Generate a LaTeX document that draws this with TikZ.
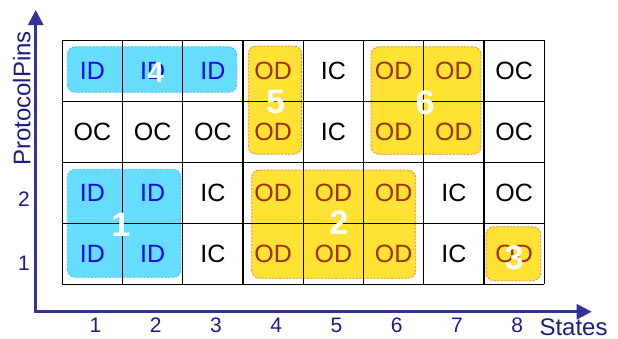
\documentclass[tikz,border=0pt]{standalone}
\usepackage{fontspec}
\setmainfont{Liberation Sans}
\usetikzlibrary{arrows.meta}
\definecolor{axisblue}{RGB}{51,51,153}
\definecolor{labelblue}{RGB}{28,28,130}
\definecolor{idfill}{RGB}{102,221,255}
\definecolor{iddraw}{RGB}{40,195,245}
\definecolor{odfill}{RGB}{255,226,51}
\definecolor{oddraw}{RGB}{250,120,40}
% text colour of each cell kind
\definecolor{txtID}{RGB}{10,10,235}
\definecolor{txtOD}{RGB}{153,51,0}
\colorlet{txtIC}{black}
\colorlet{txtOC}{black}
\tikzset{
 axis/.style={draw=axisblue,line width=2.5pt},
 gridline/.style={draw=black,line width=1.3pt},
 idbox/.style={fill=idfill,draw=iddraw,line width=0.8pt,dash pattern=on 2pt off 1.5pt,rounded corners=8pt},
 odbox/.style={fill=odfill,draw=oddraw,line width=0.8pt,dash pattern=on 2pt off 1.5pt,rounded corners=8pt},
 cell/.style={font=\fontsize{25}{30}\selectfont,inner sep=0pt},
 grpnum/.style={font=\fontsize{34}{40}\selectfont\bfseries,text=white,inner sep=0pt},
 ticklabel/.style={font=\fontsize{21}{25}\selectfont,text=labelblue,inner sep=0pt},
 axislabel/.style={font=\fontsize{24}{28}\selectfont,text=labelblue,inner sep=0pt}
}
\begin{document}
\begin{tikzpicture}[x=60.25pt,y=61pt,>={Triangle[length=15pt,width=15pt]}]
 \useasboundingbox (-1.034,-0.880) rectangle (9.223,4.661);
 % axes
 \coordinate (O) at (-0.441,-0.449);
 \coordinate (ytip) at (-0.441,4.497);
 \coordinate (xtip) at (8.787,-0.449);
 \draw[axis,<->] (ytip) -- (O) -- (xtip);
 \node[axislabel,rotate=90] (ylab) at (-0.674,3.046) {ProtocolPins};
 \node[axislabel,anchor=base] (xlab) at (8.485,-0.835) {States};
 \foreach \i in {1,...,8}
  \node[ticklabel] (x\i) at (\i-0.45,-0.667) {\i};
 \node[ticklabel] (y1) at (-0.636,0.35) {1};
 \node[ticklabel] (y2) at (-0.636,1.40) {2};
 % groups of cells
 \draw[idbox] (0.083,3.148) rectangle (2.895,3.895);
 \draw[odbox] (3.087,2.134) rectangle (3.972,3.907);
 \draw[odbox] (5.124,2.131) rectangle (6.949,3.895);
 \draw[idbox] (0.083,0.115) rectangle (1.970,1.885);
 \draw[odbox] (3.143,0.098) rectangle (5.866,1.874);
 \draw[odbox] (7.032,0.059) rectangle (7.940,0.944);
 % grid
 \foreach \i in {0,...,8}
  \draw[gridline] (\i,0) -- (\i,4);
 \foreach \j in {0,...,4}
  \draw[gridline] (0,\j) -- (8,\j);
 % cell entries, one row at a time
 \foreach \row/\list in {4/{ID,ID,ID,OD,IC,OD,OD,OC},
                         3/{OC,OC,OC,OD,IC,OD,OD,OC},
                         2/{ID,ID,IC,OD,OD,OD,IC,OC},
                         1/{ID,ID,IC,OD,OD,OD,IC,OD}}
  \foreach \t [count=\c] in \list
   \node[cell,text=txt\t] (c\c-\row) at (\c-0.5,\row-0.5) {\t};
 % group numbers
 \node[grpnum] (g1) at (0.97,0.98) {1};
 \node[grpnum] (g2) at (4.59,1.01) {2};
 \node[grpnum] (g3) at (7.50,0.44) {3};
 \node[grpnum,font=\fontsize{29}{34}\selectfont\bfseries] (g4) at (1.55,3.48) {4};
 \node[grpnum] (g5) at (3.54,2.99) {5};
 \node[grpnum] (g6) at (6.02,2.97) {6};
\end{tikzpicture}
\end{document}
